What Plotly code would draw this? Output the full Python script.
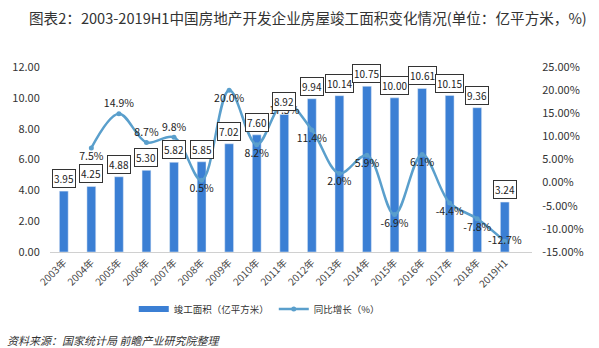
import plotly.graph_objects as go

categories = ["2003年", "2004年", "2005年", "2006年", "2007年", "2008年", "2009年", "2010年",
              "2011年", "2012年", "2013年", "2014年", "2015年", "2016年", "2017年", "2018年", "2019H1"]
area = [3.95, 4.25, 4.88, 5.30, 5.82, 5.85, 7.02, 7.60, 8.92, 9.94, 10.14, 10.75, 10.00, 10.61, 10.15, 9.36, 3.24]
growth_cats = categories[1:]
growth = [7.5, 14.9, 8.7, 9.8, 0.5, 20.0, 8.2, 17.5, 11.4, 2.0, 5.9, -6.9, 6.1, -4.4, -7.8, -12.7]
growth_pos = ["bottom center", "top center", "top center", "top center", "bottom center", "bottom center",
              "bottom center", "bottom center", "bottom center", "bottom center", "bottom center",
              "bottom center", "bottom center", "bottom center", "bottom center", "middle center"]
left_ticks = [0, 2, 4, 6, 8, 10, 12]
right_ticks = [-15, -10, -5, 0, 5, 10, 15, 20, 25]

FONT = "Noto Sans CJK SC, Liberation Sans, Arial"
BAR = "#3b7fd4"
LINE = "#5a9fcc"

W, H = 599, 348
L, R, T, B = 46, 67, 67, 96
pw, ph = W - L - R, H - T - B


def px(x):
    return (x - L) / pw


def py(y):
    return (H - B - y) / ph


fig = go.Figure()
fig.add_trace(go.Bar(
    x=categories, y=area, name="竣工面积（亿平方米）",
    marker=dict(color=BAR), width=0.32, yaxis="y", showlegend=False,
))
# legend-only entry drawn as a wide bar swatch
fig.add_trace(go.Scatter(
    x=[None], y=[None], name="竣工面积（亿平方米）", mode="lines",
    line=dict(color=BAR, width=6), yaxis="y",
))
fig.add_trace(go.Scatter(
    x=growth_cats, y=growth, name="同比增长（%）", yaxis="y2",
    mode="lines+markers+text", line=dict(color=LINE, width=2.5, shape="spline", smoothing=1.0),
    marker=dict(size=5, color=LINE),
    text=[f"{v:.1f}%" for v in growth], textposition=growth_pos,
    textfont=dict(size=10.5, color="#222", family=FONT),
))

for c, v in zip(categories, area):
    fig.add_annotation(x=c, y=v, xref="x", yref="y", text=f"{v:.2f}", showarrow=False,
                       yanchor="bottom", yshift=3, bgcolor="white", bordercolor="#333",
                       borderwidth=1, borderpad=1, font=dict(size=10, color="#222", family=FONT))

fig.add_annotation(x=px(306), y=py(17), xref="paper", yref="paper", xanchor="center", yanchor="middle",
                   text="图表2：2003-2019H1中国房地产开发企业房屋竣工面积变化情况(单位：亿平方米，%)",
                   showarrow=False, font=dict(size=14.6, color="#333", family=FONT))
fig.add_annotation(x=px(110), y=py(340), xref="paper", yref="paper", xanchor="center", yanchor="middle",
                   text="<i>资料来源：国家统计局 前瞻产业研究院整理</i>",
                   showarrow=False, font=dict(size=11, color="#333", family=FONT))

fig.update_layout(
    width=W, height=H, margin=dict(l=L, r=R, t=T, b=B),
    paper_bgcolor="white", plot_bgcolor="white",
    font=dict(family=FONT, color="#333"),
    xaxis=dict(tickangle=-45, tickfont=dict(size=10, color="#444"), showline=True,
               linecolor="#d0d0d0", ticks="", showgrid=False),
    yaxis=dict(range=[0, 12], tickvals=left_ticks, ticktext=[f"{t:.2f}" for t in left_ticks],
               showgrid=False, zeroline=False, tickfont=dict(size=11, color="#333"),
               ticks="outside", ticklen=7, tickcolor="rgba(0,0,0,0)"),
    yaxis2=dict(range=[-15, 25], overlaying="y", side="right", tickvals=right_ticks,
                ticktext=[f"{t:.2f}%" for t in right_ticks], showgrid=False, zeroline=False,
                tickfont=dict(size=11, color="#333"),
                ticks="outside", ticklen=7, tickcolor="rgba(0,0,0,0)"),
    legend=dict(orientation="h", x=px(257), xanchor="center", y=py(309), yanchor="middle",
                font=dict(size=9.5, color="#333", family=FONT)),
    showlegend=True,
)

fig.write_html("out.html")
